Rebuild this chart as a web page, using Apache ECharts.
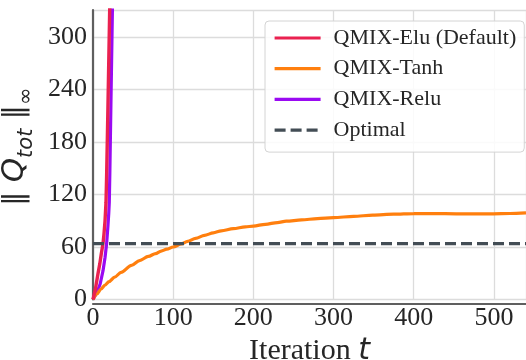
<!DOCTYPE html>
<html>
<head>
<meta charset="utf-8">
<script src="https://cdn.jsdelivr.net/npm/echarts@6/dist/echarts.min.js"></script>
<style>
html,body{margin:0;padding:0;background:#fff;}
#chart{width:526px;height:360px;}
</style>
</head>
<body>
<div id="chart"></div>
<script>
// ---- data ----
var seriesNames = ['QMIX-Elu (Default)', 'QMIX-Tanh', 'QMIX-Relu', 'Optimal'];
var xTicks = [0, 100, 200, 300, 400, 500];
var yTicks = [0, 60, 120, 180, 240, 300];

var eluT = [0, 3, 6.2, 8.5, 10.3, 12.5, 13.7, 15, 16.2, 17, 18.5, 20.8, 22];
var eluV = [0, 12, 29.5, 41, 52, 64, 75, 90, 111, 142, 214, 331, 390];

var reluT = [0, 5, 9, 12.5, 15, 17, 18.7, 19.6, 20.3, 21, 22.3, 24.2, 25];
var reluV = [0, 8, 18, 33, 48, 64, 85, 98, 111, 145, 221, 331, 380];

var tanhT = [0, 5, 10, 15, 20, 27, 35, 48, 58, 69, 78, 85, 92, 100, 110, 118, 128, 139, 150, 160, 175, 190, 200, 215, 230, 241, 260, 280, 300, 325, 349, 375, 400, 425, 453, 475, 499, 520, 540];
var tanhV = [0, 6.5, 12, 16.5, 20.5, 25.6, 31, 39, 44.5, 49.3, 52.5, 55.4, 57.5, 60, 63.5, 66.5, 70, 73.3, 76.2, 78.5, 81, 83, 84, 86, 88, 89.5, 91, 92.5, 93.6, 95, 96.5, 97.5, 98.2, 98.3, 98, 97.8, 98, 98.3, 99];

var optimalT = [0, 540];
var optimalV = [63.8, 63.8];

function pairs(ts, vs) { return ts.map(function (t, i) { return [t, vs[i]]; }); }

var serif = '"Liberation Serif", "Times New Roman", serif';
var chart = echarts.init(document.getElementById('chart'), null, {renderer: 'canvas'});

chart.setOption({
  animation: false,
  backgroundColor: '#ffffff',
  grid: {left: 93, right: 0, top: 10, bottom: 60.5, containLabel: false, outerBoundsMode: 'none'},
  legend: {
    data: seriesNames,
    orient: 'vertical',
    left: 265, top: 21,
    padding: [6, 8, 11, 8],
    itemWidth: 46, itemHeight: 14, itemGap: 8.7,
    itemStyle: {opacity: 0},
    lineStyle: {width: 3.2},
    backgroundColor: 'rgba(255,255,255,0.85)',
    borderColor: '#d4d4d4', borderWidth: 1, borderRadius: 4,
    textStyle: {fontFamily: serif, fontSize: 22, color: '#262626', padding: [0, 0, 0, 8]}
  },
  xAxis: {
    type: 'value', min: 0, max: 540, interval: 100,
    offset: 4,
    axisLine: {show: true, onZero: false, lineStyle: {color: '#5f5f5f', width: 2.2}},
    axisTick: {show: false},
    splitLine: {show: true, lineStyle: {color: '#dcdcdc', width: 1.3}},
    axisLabel: {
      fontFamily: serif, fontSize: 26, color: '#262626', margin: 2,
      showMaxLabel: false,
      formatter: function (v) { return xTicks.indexOf(v) >= 0 ? String(v) : ''; }
    },
    name: '{n|Iteration }{t|t}',
    nameLocation: 'middle', nameGap: 24,
    nameTextStyle: {
      rich: {
        n: {fontFamily: serif, fontSize: 30, color: '#262626'},
        t: {fontFamily: '"DejaVu Sans"', fontStyle: 'italic', fontSize: 30, color: '#262626'}
      }
    }
  },
  yAxis: {
    type: 'value', min: 0, max: 331, interval: 60,
    offset: 2,
    axisLine: {show: true, lineStyle: {color: '#5f5f5f', width: 2.2}},
    axisTick: {show: false},
    splitLine: {show: true, lineStyle: {color: '#dcdcdc', width: 1.3}},
    axisLabel: {
      fontFamily: serif, fontSize: 26, color: '#262626', margin: 4,
      formatter: function (v) { return yTicks.indexOf(v) >= 0 ? String(v) : ''; }
    },
    name: '{b|‖ }{q|Q}{s|tot}{b| ‖}{i|∞}',
    nameLocation: 'middle', nameGap: 33,
    nameTextStyle: {
      padding: [0, 0, 0, 16],
      rich: {
        b: {fontFamily: '"DejaVu Sans"', fontSize: 29, color: '#262626', lineHeight: 44},
        q: {fontFamily: '"DejaVu Sans"', fontStyle: 'italic', fontSize: 31, color: '#262626', lineHeight: 44},
        s: {fontFamily: '"DejaVu Sans"', fontStyle: 'italic', fontSize: 21, color: '#262626', lineHeight: 21, verticalAlign: 'bottom'},
        i: {fontFamily: '"DejaVu Sans"', fontSize: 21, color: '#262626', lineHeight: 21, verticalAlign: 'bottom'}
      }
    }
  },
  series: [
    {
      name: seriesNames[2], type: 'line', z: 3,
      data: pairs(reluT, reluV), showSymbol: false, symbol: 'none',
      lineStyle: {color: '#9a0af2', width: 3.2, join: 'round'}, itemStyle: {color: '#9a0af2'}
    },
    {
      name: seriesNames[1], type: 'line', z: 4,
      data: pairs(tanhT, tanhV), showSymbol: false, symbol: 'none',
      smooth: 0.3, smoothMonotone: 'x',
      lineStyle: {color: '#ff7f0e', width: 3.2}, itemStyle: {color: '#ff7f0e'}
    },
    {
      name: seriesNames[0], type: 'line', z: 5,
      data: pairs(eluT, eluV), showSymbol: false, symbol: 'none',
      lineStyle: {color: '#ea2150', width: 3.4, join: 'round'}, itemStyle: {color: '#ea2150'}
    },
    {
      name: seriesNames[3], type: 'line', z: 6,
      data: pairs(optimalT, optimalV), showSymbol: false, symbol: 'none',
      lineStyle: {color: '#434d55', width: 3.2, type: [11, 5]}, itemStyle: {color: '#434d55'}
    }
  ]
});
</script>
</body>
</html>
